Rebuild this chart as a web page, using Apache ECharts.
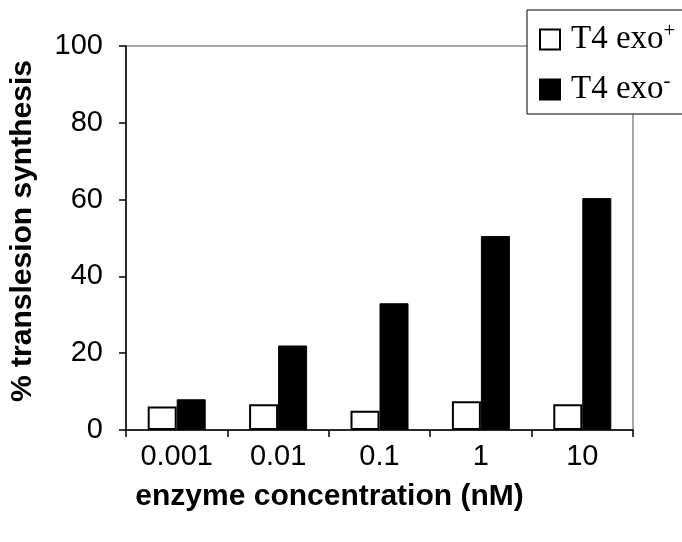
<!DOCTYPE html>
<html>
<head>
<meta charset="utf-8">
<script src="https://cdn.jsdelivr.net/npm/echarts@6/dist/echarts.min.js"></script>
<style>html,body{margin:0;padding:0;background:#fff;}#c{width:682px;height:542px;}</style>
</head>
<body>
<div id="c"></div>
<script>
var categories = ['0.001', '0.01', '0.1', '1', '10'];
var exoPlus = [6.1, 6.7, 5.0, 7.5, 6.7];
var exoMinus = [8.0, 22.0, 33.0, 50.5, 60.4];
var yTicks = [0, 20, 40, 60, 80, 100];
var xTitle = 'enzyme concentration (nM)';
var yTitle = '% translesion synthesis';

var chart = echarts.init(document.getElementById('c'));
chart.setOption({
  animation: false,
  backgroundColor: '#fff',
  grid: { left: 125, right: 49, top: 46, bottom: 112, show: true, borderColor: '#8c8c8c', borderWidth: 1.5, backgroundColor: 'transparent' },
  legend: {
    orient: 'vertical', left: 527, top: 10,
    padding: [11, 60, 8, 12],
    itemGap: 15, itemWidth: 20, itemHeight: 20, icon: 'rect',
    borderColor: '#000', borderWidth: 1, backgroundColor: '#fff',
    data: ['T4 exo+', 'T4 exo-'],
    formatter: function (n) { return '{n|T4 exo}{s|' + (n === 'T4 exo+' ? '+' : '-') + '}'; },
    textStyle: {
      rich: {
        n: { fontFamily: 'Liberation Serif', fontSize: 33, lineHeight: 36, color: '#000', padding: [0, 0, 0, 6] },
        s: { fontFamily: 'Liberation Serif', fontSize: 21, color: '#000', padding: [0, 0, 16, 0] }
      }
    }
  },
  xAxis: {
    type: 'category', data: categories,
    axisLine: { lineStyle: { color: '#000', width: 1.5 } },
    axisTick: { show: true, alignWithLabel: false, length: 7, lineStyle: { color: '#000', width: 1.5 } },
    axisLabel: { color: '#000', fontFamily: 'Liberation Sans', fontSize: 29, margin: 12 },
    name: xTitle, nameLocation: 'middle', nameGap: 52,
    nameTextStyle: { color: '#000', fontFamily: 'Liberation Sans', fontSize: 30, fontWeight: 'bold', padding: [0, 100, 0, 0] }
  },
  yAxis: {
    type: 'value', min: 0, max: 100, interval: 20,
    splitLine: { show: false },
    axisLine: { show: true, lineStyle: { color: '#000', width: 1.5 } },
    axisTick: { show: true, length: 7, lineStyle: { color: '#000', width: 1.5 } },
    axisLabel: { color: '#000', fontFamily: 'Liberation Sans', fontSize: 29, margin: 23,
      formatter: function (v) { return yTicks.indexOf(v) >= 0 ? String(v) : ''; } },
    name: yTitle, nameLocation: 'middle', nameGap: 88, nameRotate: 90,
    nameTextStyle: { color: '#000', fontFamily: 'Liberation Sans', fontSize: 30, fontWeight: 'bold', padding: [0, 0, 0, 14] }
  },
  series: [
    { name: 'T4 exo+', type: 'bar', data: exoPlus, barWidth: 29, barGap: '0%',
      itemStyle: { color: '#fff', borderColor: '#000', borderWidth: 2 } },
    { name: 'T4 exo-', type: 'bar', data: exoMinus, barWidth: 29, barGap: '0%',
      itemStyle: { color: '#000', borderColor: '#000', borderWidth: 1 } }
  ]
});
</script>
</body>
</html>
